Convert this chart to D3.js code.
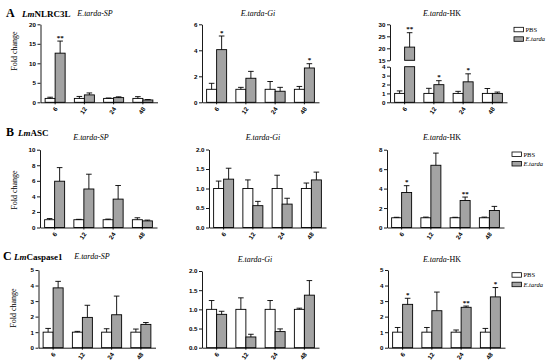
<!DOCTYPE html>
<html>
<head>
<meta charset="utf-8">
<script src="https://cdnjs.cloudflare.com/ajax/libs/d3/7.8.5/d3.min.js"></script>
<style>
    body { margin: 0; background: #fff; }
    svg { display: block; }
    .axis text { font-family: "Liberation Sans", Arial, sans-serif; font-weight: bold; font-size: 6.2px; fill: #000; }
    .axis path, .axis line { stroke: #000; stroke-width: 0.9; }
    .serif { font-family: "Liberation Serif", "Times New Roman", serif; fill: #000; }
</style>
</head>
<body>
<div id="chart"></div>
<script>

// categories
var times = ["6", "12", "24", "48"];
var groups = ["PBS", "E.tarda"];

// LmNLRC3L (mean, upper SD, significance)
var nlrc3lSpPbs = [1.0, 1.0, 1.0, 1.0],      nlrc3lSpPbsErr = [0.3, 0.5, 0.1, 0.45];
var nlrc3lSpTarda = [12.6, 1.9, 1.2, 0.6],   nlrc3lSpTardaErr = [3.1, 0.5, 0.2, 0.1];
var nlrc3lSpStars = ["**", "", "", ""];
var nlrc3lGiPbs = [1.0, 1.0, 1.0, 1.0],      nlrc3lGiPbsErr = [0.46, 0.15, 0.6, 0.22];
var nlrc3lGiTarda = [4.05, 1.85, 0.85, 2.64], nlrc3lGiTardaErr = [1.05, 0.53, 0.3, 0.33];
var nlrc3lGiStars = ["*", "", "", "*"];
var nlrc3lHkPbs = [1.0, 1.0, 1.0, 1.0],      nlrc3lHkPbsErr = [0.28, 0.57, 0.23, 0.55];
var nlrc3lHkTarda = [20.5, 1.98, 2.3, 1.0],  nlrc3lHkTardaErr = [6.0, 0.45, 0.9, 0.15];
var nlrc3lHkStars = ["**", "*", "*", ""];

// LmASC
var ascSpPbs = [1.0, 1.0, 1.0, 1.0],         ascSpPbsErr = [0.15, 0.05, 0.08, 0.25];
var ascSpTarda = [5.95, 4.95, 3.65, 0.85],   ascSpTardaErr = [1.75, 1.9, 1.75, 0.1];
var ascSpStars = ["", "", "", ""];
var ascGiPbs = [1.0, 1.0, 1.0, 1.0],         ascGiPbsErr = [0.19, 0.22, 0.34, 0.14];
var ascGiTarda = [1.24, 0.56, 0.6, 1.22],    ascGiTardaErr = [0.28, 0.11, 0.15, 0.2];
var ascGiStars = ["", "", "", ""];
var ascHkPbs = [1.0, 1.0, 1.0, 1.0],         ascHkPbsErr = [0.05, 0.07, 0.05, 0.07];
var ascHkTarda = [3.6, 6.4, 2.78, 1.75],     ascHkTardaErr = [0.7, 1.25, 0.35, 0.42];
var ascHkStars = ["*", "", "**", ""];

// LmCaspase1
var casp1SpPbs = [1.0, 1.0, 1.0, 1.0],       casp1SpPbsErr = [0.24, 0.05, 0.22, 0.2];
var casp1SpTarda = [3.85, 1.95, 2.12, 1.5],  casp1SpTardaErr = [0.42, 0.78, 1.2, 0.12];
var casp1SpStars = ["", "", "", ""];
var casp1GiPbs = [1.0, 1.0, 1.0, 1.0],       casp1GiPbsErr = [0.23, 0.3, 0.23, 0.03];
var casp1GiTarda = [0.87, 0.28, 0.42, 1.37], casp1GiTardaErr = [0.08, 0.07, 0.07, 0.38];
var casp1GiStars = ["", "", "", ""];
var casp1HkPbs = [1.0, 1.0, 1.0, 1.0],       casp1HkPbsErr = [0.3, 0.3, 0.14, 0.24];
var casp1HkTarda = [2.79, 2.38, 2.6, 3.27],  casp1HkTardaErr = [0.39, 1.2, 0.08, 0.6];
var casp1HkStars = ["*", "", "**", "*"];


var svg = d3.select("#chart").append("svg")
    .attr("width", 550)
    .attr("height", 364);

var greyFill = "#a3a3a3";


/// object for one bar panel
BarPanel = function(_svg, _opts){
    this.svg = _svg;
    this.opts = _opts;
    this.initVis();
}

BarPanel.prototype.initVis = function(){
    var vis = this;
    var o = vis.opts;

    vis.width = 117;
    vis.g = vis.svg.append("g");

    // grouped x scales
    vis.x0 = d3.scaleBand()
        .domain(times)
        .range([o.left, o.left + vis.width])
        .paddingInner(0.316)
        .paddingOuter(0.158);
    vis.x1 = d3.scaleBand()
        .domain(groups)
        .range([0, vis.x0.bandwidth()]);

    // one linear scale per axis segment (broken axis = two segments)
    vis.ys = o.segments.map(function(s){
        return {
            scale: d3.scaleLinear().domain(s.domain).range(s.range),
            step: s.step,
            fmt: s.fmt || d3.format("d")
        };
    });

    // flatten data
    vis.bars = [];
    times.forEach(function(t, i){
        vis.bars.push({time: t, group: "PBS", value: o.pbs[i], err: o.pbsErr[i], star: ""});
        vis.bars.push({time: t, group: "E.tarda", value: o.tarda[i], err: o.tardaErr[i], star: o.stars[i]});
    });

    vis.updateVis();
}

BarPanel.prototype.yPos = function(v){
    var vis = this;
    for (var i = vis.ys.length - 1; i >= 0; i--) {
        if (v >= vis.ys[i].scale.domain()[0]) return vis.ys[i].scale(v);
    }
    return vis.ys[0].scale(v);
}

BarPanel.prototype.updateVis = function(){
    var vis = this;
    var o = vis.opts;
    var bw = vis.x1.bandwidth();

    // bars, split into pieces for every axis segment they cross
    vis.ys.forEach(function(s){
        var lo = s.scale.domain()[0], hi = s.scale.domain()[1];
        vis.g.selectAll(null)
            .data(vis.bars.filter(function(d){ return d.value > lo; }))
            .enter().append("rect")
            .attr("x", function(d){ return vis.x0(d.time) + vis.x1(d.group); })
            .attr("width", bw)
            .attr("y", function(d){ return s.scale(Math.min(d.value, hi)); })
            .attr("height", function(d){ return s.scale(lo) - s.scale(Math.min(d.value, hi)); })
            .attr("fill", function(d){ return d.group == "PBS" ? "#fff" : greyFill; })
            .attr("stroke", "#000")
            .attr("stroke-width", 0.9);
    });

    // error bars (upper only)
    var err = vis.g.selectAll(".err")
        .data(vis.bars)
        .enter().append("g")
        .attr("class", "err")
        .attr("transform", function(d){ return "translate(" + (vis.x0(d.time) + vis.x1(d.group) + bw / 2) + ",0)"; });
    err.append("line")
        .attr("y1", function(d){ return vis.yPos(d.value); })
        .attr("y2", function(d){ return vis.yPos(d.value + d.err); })
        .attr("stroke", "#000").attr("stroke-width", 0.9);
    err.append("line")
        .attr("x1", -2.8).attr("x2", 2.8)
        .attr("y1", function(d){ return vis.yPos(d.value + d.err); })
        .attr("y2", function(d){ return vis.yPos(d.value + d.err); })
        .attr("stroke", "#000").attr("stroke-width", 0.9);
    err.append("text")
        .attr("class", "serif")
        .attr("y", function(d){ return vis.yPos(d.value + d.err) - 1.5; })
        .attr("text-anchor", "middle")
        .style("font-size", "7px")
        .style("font-weight", "bold")
        .text(function(d){ return d.star; });

    // x axis
    var y0 = vis.ys[0].scale(0);
    var xAxis = vis.g.append("g")
        .attr("class", "axis")
        .attr("transform", "translate(0," + y0 + ")")
        .call(d3.axisBottom(vis.x0).tickSize(2).tickSizeOuter(0));
    xAxis.selectAll("text")
        .attr("x", 0).attr("y", 0).attr("dy", "0.35em")
        .attr("transform", "translate(1,5.5) rotate(-55)")
        .style("text-anchor", "end");

    // y axis segments
    vis.ys.forEach(function(s){
        var d = s.scale.domain();
        vis.g.append("g")
            .attr("class", "axis")
            .attr("transform", "translate(" + o.left + ",0)")
            .call(d3.axisLeft(s.scale)
                .tickValues(d3.range(d[0], d[1] + s.step / 2, s.step))
                .tickFormat(s.fmt)
                .tickSize(3)
                .tickSizeOuter(0)
                .tickPadding(1.5));
    });

    // title
    var title = vis.g.append("text")
        .attr("class", "serif")
        .attr("x", o.titleX)
        .attr("y", o.titleY)
        .attr("text-anchor", "middle")
        .style("font-size", "8px");
    title.append("tspan").style("font-style", "italic").text("E.tarda");
    title.append("tspan").style("font-style", o.tissue == "HK" ? "normal" : "italic").text("-" + o.tissue);

    // legend on right hand column
    if (o.legend) {
        var lg = vis.g.append("g").attr("transform", "translate(" + o.legend[0] + "," + o.legend[1] + ")");
        groups.forEach(function(gname, i){
            lg.append("rect")
                .attr("x", 0).attr("y", i * 9.5)
                .attr("width", 9.5).attr("height", 4.5)
                .attr("fill", i == 0 ? "#fff" : greyFill)
                .attr("stroke", "#000").attr("stroke-width", 0.8);
            lg.append("text")
                .attr("class", "serif")
                .attr("x", 11.5).attr("y", i * 9.5 + 4.5)
                .style("font-size", "6.5px")
                .style("font-style", i == 0 ? "normal" : "italic")
                .text(gname);
        });
    }

    // y label on left hand column
    if (o.ylabel) {
        vis.g.append("text")
            .attr("class", "serif")
            .attr("transform", "translate(" + o.ylabel[0] + "," + o.ylabel[1] + ") rotate(-90)")
            .attr("text-anchor", "middle")
            .style("font-size", "8px")
            .text("Fold change");
    }
}


// row headers: panel letter + gene name
function rowHeader(letter, gene, x, y, geneX){
    svg.append("text").attr("class", "serif")
        .attr("x", x).attr("y", y)
        .style("font-size", "12px").style("font-weight", "bold")
        .text(letter);
    var t = svg.append("text").attr("class", "serif")
        .attr("x", geneX).attr("y", y)
        .style("font-size", "9px").style("font-weight", "bold");
    t.append("tspan").style("font-style", "italic").text("Lm");
    t.append("tspan").text(gene);
}

rowHeader("A", "NLRC3L", 6, 16.5, 22);
rowHeader("B", "ASC", 6, 135.5, 18);
rowHeader("C", "Caspase1", 3, 259.5, 14);

var fmt1 = d3.format(".1f");

// row A
new BarPanel(svg, {left: 40.5, segments: [{domain: [0, 20], range: [102.3, 24.3], step: 5}],
    pbs: nlrc3lSpPbs, pbsErr: nlrc3lSpPbsErr, tarda: nlrc3lSpTarda, tardaErr: nlrc3lSpTardaErr, stars: nlrc3lSpStars,
    tissue: "SP", titleX: 95, titleY: 15.5, ylabel: [16.5, 51]});
new BarPanel(svg, {left: 202, segments: [{domain: [0, 6], range: [102.3, 24.3], step: 2}],
    pbs: nlrc3lGiPbs, pbsErr: nlrc3lGiPbsErr, tarda: nlrc3lGiTarda, tardaErr: nlrc3lGiTardaErr, stars: nlrc3lGiStars,
    tissue: "Gi", titleX: 258, titleY: 15.5});
new BarPanel(svg, {left: 390, segments: [{domain: [0, 4], range: [102.3, 66.7], step: 1},
                                         {domain: [15, 30], range: [60.3, 24.3], step: 5}],
    pbs: nlrc3lHkPbs, pbsErr: nlrc3lHkPbsErr, tarda: nlrc3lHkTarda, tardaErr: nlrc3lHkTardaErr, stars: nlrc3lHkStars,
    tissue: "HK", titleX: 442, titleY: 15.5, legend: [514, 27.3]});

// row B
new BarPanel(svg, {left: 40, segments: [{domain: [0, 10], range: [227.5, 149.7], step: 2}],
    pbs: ascSpPbs, pbsErr: ascSpPbsErr, tarda: ascSpTarda, tardaErr: ascSpTardaErr, stars: ascSpStars,
    tissue: "SP", titleX: 91, titleY: 140, ylabel: [16.5, 190]});
new BarPanel(svg, {left: 209, segments: [{domain: [0, 2], range: [227.5, 149.5], step: 0.5, fmt: fmt1}],
    pbs: ascGiPbs, pbsErr: ascGiPbsErr, tarda: ascGiTarda, tardaErr: ascGiTardaErr, stars: ascGiStars,
    tissue: "Gi", titleX: 263, titleY: 140});
new BarPanel(svg, {left: 387, segments: [{domain: [0, 8], range: [227.5, 149.7], step: 2}],
    pbs: ascHkPbs, pbsErr: ascHkPbsErr, tarda: ascHkTarda, tardaErr: ascHkTardaErr, stars: ascHkStars,
    tissue: "HK", titleX: 442, titleY: 140, legend: [512, 152]});

// row C
new BarPanel(svg, {left: 38.5, segments: [{domain: [0, 5], range: [347.7, 270], step: 1}],
    pbs: casp1SpPbs, pbsErr: casp1SpPbsErr, tarda: casp1SpTarda, tardaErr: casp1SpTardaErr, stars: casp1SpStars,
    tissue: "SP", titleX: 92, titleY: 259, ylabel: [15.5, 308]});
new BarPanel(svg, {left: 202, segments: [{domain: [0, 2], range: [347.7, 271], step: 0.5, fmt: fmt1}],
    pbs: casp1GiPbs, pbsErr: casp1GiPbsErr, tarda: casp1GiTarda, tardaErr: casp1GiTardaErr, stars: casp1GiStars,
    tissue: "Gi", titleX: 255, titleY: 262});
new BarPanel(svg, {left: 388, segments: [{domain: [0, 5], range: [347.7, 270], step: 1}],
    pbs: casp1HkPbs, pbsErr: casp1HkPbsErr, tarda: casp1HkTarda, tardaErr: casp1HkTardaErr, stars: casp1HkStars,
    tissue: "HK", titleX: 442, titleY: 262, legend: [512, 272.7]});

</script>
</body>
</html>
